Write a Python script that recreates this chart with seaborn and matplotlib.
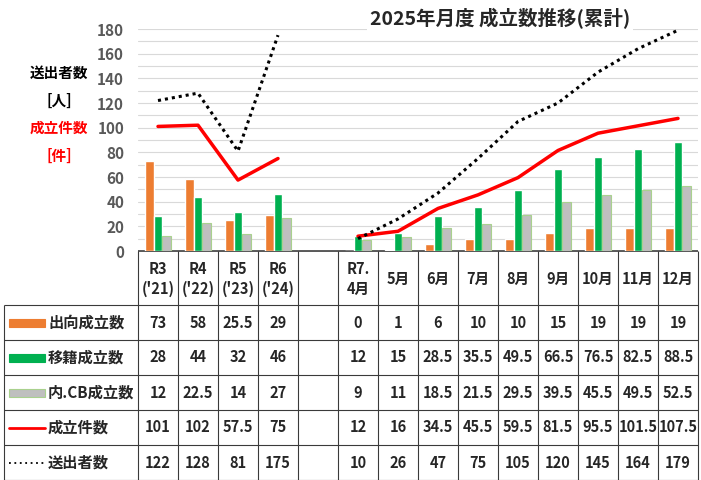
import numpy as np
import pandas as pd
import matplotlib
matplotlib.use('Agg')
import matplotlib.pyplot as plt
import seaborn as sns

sns.set_style('white')
plt.rcParams['font.family'] = ['Noto Sans CJK JP', 'DejaVu Sans']

# データ (R3-R6 は年度、R7 は月別累計)
cats = ['R3', 'R4', 'R5', 'R6', ' ', 'R7.4月', '5月', '6月', '7月', '8月', '9月', '10月', '11月', '12月']
header = ["R3\n('21)", "R4\n('22)", "R5\n('23)", "R6\n('24)", '', 'R7.\n4月',
          '5月', '6月', '7月', '8月', '9月', '10月', '11月', '12月']
nan = np.nan
shukko = [73, 58, 25.5, 29, nan, 0, 1, 6, 10, 10, 15, 19, 19, 19]
iseki = [28, 44, 32, 46, nan, 12, 15, 28.5, 35.5, 49.5, 66.5, 76.5, 82.5, 88.5]
cb = [12, 22.5, 14, 27, nan, 9, 11, 18.5, 21.5, 29.5, 39.5, 45.5, 49.5, 52.5]
kensu = [101, 102, 57.5, 75, nan, 12, 16, 34.5, 45.5, 59.5, 81.5, 95.5, 101.5, 107.5]
soshutsu = [122, 128, 81, 175, nan, 10, 26, 47, 75, 105, 120, 145, 164, 179]

bar_names = ['出向成立数', '移籍成立数', '内.CB成立数']
bar_colors = ['#ED7D31', '#00B050', '#BFBFBF']

df = pd.DataFrame({
    'cat': cats * 3,
    'series': sum([[n] * len(cats) for n in bar_names], []),
    'value': shukko + iseki + cb,
})

W, H = 701, 480
fig = plt.figure(figsize=(W / 100, H / 100), dpi=100)

# 表用の軸 (ピクセル座標)
tab = fig.add_axes([0, 0, 1, 1])
tab.set_xlim(0, W)
tab.set_ylim(H, 0)
tab.axis('off')

x0, x1 = 138, 698
y_axis0, y_top = 251, 29
ax = fig.add_axes([x0 / W, 1 - y_axis0 / H, (x1 - x0) / W, (y_axis0 - y_top) / H])
ax.patch.set_alpha(0)

sns.barplot(data=df, x='cat', y='value', hue='series', order=cats, hue_order=bar_names,
            palette=bar_colors, saturation=1, width=0.66, errorbar=None, legend=False, ax=ax)
for bar in ax.containers[2]:
    bar.set_edgecolor('#A9D18E')
    bar.set_linewidth(0.8)

pos = np.arange(len(cats))
for vals, color, ls, lw in [(kensu, '#FF0000', '-', 2.5), (soshutsu, 'black', (0, (1, 1.3)), 2.2)]:
    v = np.array(vals, dtype=float)
    for seg in [slice(0, 4), slice(5, len(cats))]:
        sns.lineplot(x=pos[seg], y=v[seg], color=color, linestyle=ls, linewidth=lw,
                     sort=False, ax=ax)

ax.set_xlim(-0.5, len(cats) - 0.5)
ax.set_ylim(0, 180)
ax.set_yticks(range(0, 181, 20))
ax.set_yticks(range(0, 181, 10), minor=True)
ax.grid(axis='y', which='both', color='#D9D9D9', linewidth=0.8)
ax.set_axisbelow(True)
ax.set_xticks([])
ax.set_xlabel('')
ax.set_ylabel('')
ax.tick_params(axis='y', which='both', length=0, pad=10, labelsize=11, labelcolor='#595959')
for t in ax.get_yticklabels():
    t.set_fontweight('bold')
sns.despine(ax=ax, left=True, bottom=True)

# タイトル
fig.text(500 / W, 1 - 19 / H, '2025年月度 成立数推移(累計)', ha='center', va='center',
         fontsize=14, fontweight='bold', bbox=dict(facecolor='white', edgecolor='none', pad=2))

# 左の軸ラベル
for txt, y, c in [('送出者数', 73, 'black'), ('[人]', 101, 'black'),
                  ('成立件数', 128, '#FF0000'), ('[件]', 156, '#FF0000')]:
    tab.text(59, y, txt, ha='center', va='center', fontsize=10.5, fontweight='bold', color=c)

# 表
cw = (x1 - x0) / len(cats)
row_h = 35
row_top = 305
rows_y = [row_top + row_h * i for i in range(6)]
lc = '#3A3A3A'
tab.hlines(y_axis0, x0, x1, color=lc, linewidth=1.2)
tab.vlines([x0 + cw * i for i in range(len(cats) + 1)], y_axis0, rows_y[-1], color=lc, linewidth=0.8)
tab.vlines(4, row_top, rows_y[-1], color=lc, linewidth=0.8)
tab.hlines(rows_y, 4, x1, color=lc, linewidth=0.8)

for i, h in enumerate(header):
    tab.text(x0 + cw * (i + 0.5), 279, h, ha='center', va='center', fontsize=10.5,
             fontweight='bold', linespacing=1.25)

all_rows = [shukko, iseki, cb, kensu, soshutsu]
row_names = bar_names + ['成立件数', '送出者数']
for r, (vals, name) in enumerate(zip(all_rows, row_names)):
    yc = row_top + row_h * (r + 0.5)
    for i, v in enumerate(vals):
        if not np.isnan(v):
            tab.text(x0 + cw * (i + 0.5), yc, f'{v:g}', ha='center', va='center',
                     fontsize=10.5, fontweight='bold')
    tab.text(48, yc, name, ha='left', va='center', fontsize=11, fontweight='bold')

# 凡例の記号
for r in range(3):
    yc = row_top + row_h * (r + 0.5)
    ec = '#A9D18E' if r == 2 else bar_colors[r]
    tab.add_patch(plt.Rectangle((9, yc - 4), 36, 8, facecolor=bar_colors[r], edgecolor=ec, linewidth=0.8))
tab.plot([9, 45], [row_top + row_h * 3.5] * 2, color='#FF0000', linewidth=2)
tab.plot([9, 45], [row_top + row_h * 4.5] * 2, color='black', linewidth=1.3, linestyle=(0, (1, 2)))

fig.savefig('out.png', dpi=100)
